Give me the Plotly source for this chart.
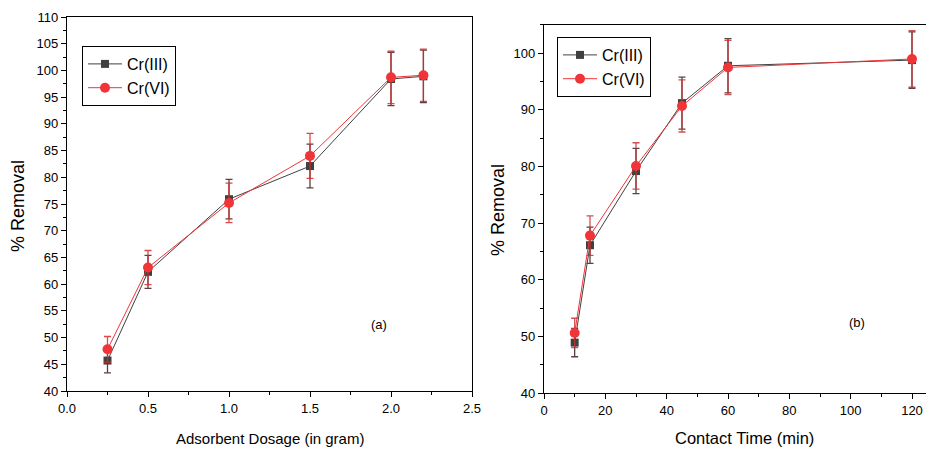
import plotly.graph_objects as go

# Panel (a): adsorbent dosage
dosage = [0.25, 0.5, 1.0, 1.5, 2.0, 2.2]
dose_cr3 = [45.7, 62.3, 75.9, 82.1, 98.4, 98.9]
dose_cr3_err = [2.3, 3.1, 3.7, 4.1, 5.0, 4.9]
dose_cr6 = [47.8, 63.1, 75.2, 84.0, 98.7, 99.1]
dose_cr6_err = [2.4, 3.2, 3.7, 4.2, 4.9, 4.9]

# Panel (b): contact time
time_min = [10, 15, 30, 45, 60, 120]
time_cr3 = [48.9, 66.1, 79.2, 91.2, 97.8, 98.8]
time_cr3_err = [2.5, 3.2, 4.0, 4.6, 4.8, 5.0]
time_cr6 = [50.6, 67.8, 80.1, 90.7, 97.5, 99.0]
time_cr6_err = [2.6, 3.5, 4.1, 4.6, 4.8, 5.0]

series_names = ["Cr(III)", "Cr(VI)"]
c3 = "#404040"
c6 = "#F03438"
font = "Liberation Sans, Arial, sans-serif"

OFF = 8  # page body margin offset
W, H = 934 - OFF, 450 - OFF
# plot area in (screen) pixels
PL, PR, PT, PB = 67, 934, 17, 393
PW, PH = PR - PL, PB - PT

def px(x):
    return (x - PL) / PW

def py(y):
    return (PB - y) / PH

fig = go.Figure()

def add(x, y, e, name, color, symbol, size, xa, ya, legend, ecolor):
    fig.add_trace(go.Scatter(
        x=x, y=y, name=name, mode="lines+markers",
        line=dict(color=color, width=1),
        marker=dict(symbol=symbol, size=size, color=color),
        error_y=dict(type="data", array=e, visible=True, color=ecolor,
                     thickness=1.3, width=3.5),
        xaxis=xa, yaxis=ya, legend=legend))

add(dosage, dose_cr3, dose_cr3_err, series_names[0], c3, "square", 8, "x", "y", "legend", "#5a4040")
add(dosage, dose_cr6, dose_cr6_err, series_names[1], c6, "circle", 10, "x", "y", "legend", "rgba(220,40,40,0.85)")
add(time_min, time_cr3, time_cr3_err, series_names[0], c3, "square", 8, "x2", "y2", "legend2", "#5a4040")
add(time_min, time_cr6, time_cr6_err, series_names[1], c6, "circle", 10, "x2", "y2", "legend2", "rgba(200,50,50,0.85)")

ax_common = dict(showgrid=False, zeroline=False, showline=True, linecolor="black",
                 linewidth=1.2, ticks="outside", ticklen=5, tickcolor="black",
                 automargin=False,
                 tickfont=dict(family=font, size=13, color="black"))

L0, L1, T0, B0 = 67, 472, 17, 391
R0, R1, T1, B1 = 544, 934, 25, 393
xr_right = (R1 - R0) / ((912 - 544) / 120.0)
yr_right = 40 + (B1 - T1) / ((393 - 53.3) / 60)

leg_common = dict(xanchor="left", yanchor="top",
                  bordercolor="black", borderwidth=1, bgcolor="white",
                  font=dict(family=font, size=16, color="black"),
                  tracegroupgap=0, itemwidth=34)

fig.update_layout(
    width=W, height=H,
    margin=dict(l=PL - OFF, r=934 - PR, t=PT - OFF, b=450 - PB, autoexpand=False),
    paper_bgcolor="white", plot_bgcolor="white",
    xaxis=dict(domain=[px(L0), px(L1)], range=[0, 2.5], tick0=0, dtick=0.5,
               tickformat=".1f", mirror=True, anchor="y",
               minor=dict(ticks="outside", ticklen=3, dtick=0.25, tickcolor="black"),
               **ax_common),
    yaxis=dict(domain=[py(B0), py(T0)], range=[40, 110], dtick=5,
               mirror=True, anchor="x",
               minor=dict(ticks="outside", ticklen=3, dtick=2.5, tickcolor="black"),
               **ax_common),
    xaxis2=dict(domain=[px(R0), px(R1)], range=[0, xr_right], dtick=20,
                mirror=True, anchor="y2",
                minor=dict(ticks="outside", ticklen=3, dtick=10, tickcolor="black"),
                **ax_common),
    yaxis2=dict(domain=[py(B1), py(T1)], range=[40, yr_right],
                dtick=10, mirror=False, anchor="x2",
                minor=dict(ticks="outside", ticklen=3, dtick=5, tickcolor="black"),
                **ax_common),
    legend=dict(x=px(82), y=py(46), **leg_common),
    legend2=dict(x=px(557), y=py(37), **leg_common),
    showlegend=True,
)

ann = [
    dict(text="Adsorbent Dosage (in gram)", x=270, y=438, size=15, angle=0),
    dict(text="Contact Time (min)", x=744, y=438, size=16.5, angle=0),
    dict(text="% Removal", x=18, y=206, size=18, angle=-90),
    dict(text="% Removal", x=498, y=210, size=18, angle=-90),
    dict(text="(a)", x=379, y=324, size=13, angle=0),
    dict(text="(b)", x=857, y=322, size=13, angle=0),
]
for a in ann:
    fig.add_annotation(text=a["text"], x=px(a["x"]), y=py(a["y"]), xref="paper", yref="paper",
                       showarrow=False, textangle=a["angle"], xanchor="center", yanchor="middle",
                       font=dict(family=font, size=a["size"], color="black"))

fig.write_html("out.html")
